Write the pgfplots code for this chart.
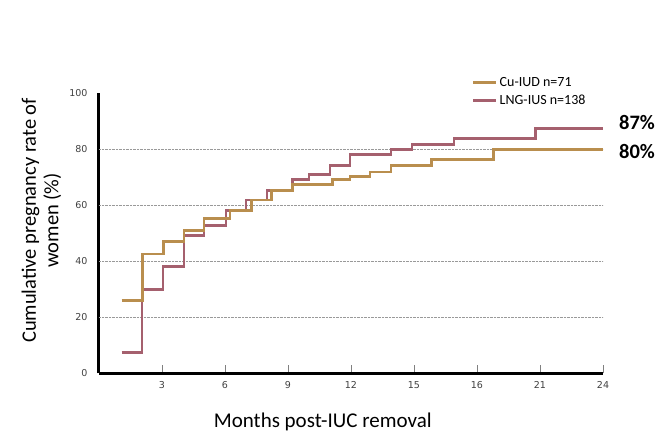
\documentclass[border=0pt]{standalone}
\usepackage{pgfplots}
\pgfplotsset{compat=1.18}
\usepackage{fontspec}
\setmainfont{Carlito}
\newfontfamily\tickfont{DejaVu Sans}
\definecolor{cugold}{HTML}{B98E4E}
\definecolor{lngmauve}{HTML}{A5606E}
\definecolor{ticktext}{HTML}{404040}
\begin{document}
\begin{tikzpicture}
\path[use as bounding box] (0,0) rectangle (667pt,446pt);
\begin{axis}[
  at={(99pt,72.7pt)}, anchor=south west,
  scale only axis, width=504pt, height=280pt,
  xmin=0, xmax=24, ymin=0, ymax=100,
  axis lines=left,
  axis line style={-, line width=3pt, black},
  clip=false,
  xtick={3,6,9,12,15,18,21,24},
  xticklabels={3,6,9,12,15,16,21,24},
  ytick={0,20,40,60,80,100},
  tick align=inside,
  xtick style={draw=gray, line width=0.8pt},
  ytick style={draw=none},
  major tick length=8pt,
  extra y ticks={20,40,60,80},
  extra y tick labels={},
  extra y tick style={grid=major, major grid style={densely dotted, gray!80, line width=0.9pt}, tick style={draw=none}},
  /pgf/number format/assume math mode=true,
  tick label style={font=\tickfont\fontsize{9.5}{11}\selectfont, text=ticktext},
  xticklabel style={yshift=-5pt},
  yticklabel style={xshift=-8pt},
  xlabel={Months post-IUC removal},
  xlabel style={font=\fontsize{21}{24}\selectfont, at={(axis description cs:0.444,-0.173)}, anchor=center},
  ylabel={Cumulative pregnancy rate of\\women (\%)},
  ylabel style={font=\fontsize{20.5}{22.5}\selectfont, align=center, at={(axis description cs:-0.114,0.546)}, anchor=center},
  legend style={draw=none, fill=none, at={(axis description cs:0.7395,1.065)}, anchor=north west,
    font=\fontsize{14}{16}\selectfont, row sep=3pt, inner sep=0pt},
  legend cell align=left,
  legend image code/.code={\draw[#1] (0pt,0pt) -- (23pt,0pt);},
]
\addlegendimage{cugold, line width=2.8pt}
\addlegendentry{Cu-IUD n=71}
\addlegendimage{lngmauve, line width=2.8pt}
\addlegendentry{LNG-IUS n=138}

\addplot[const plot, lngmauve, line width=2.8pt, forget plot] coordinates {
(1.08,7.3) (2.05,30) (3.05,38) (4.05,49.1) (5.0,52.7) (6.05,58.2) (7.0,61.9) (8.0,65.4)
(9.2,69.1) (10.0,70.9) (11.0,74.2) (11.95,78.1) (13.9,80) (14.9,81.8) (16.9,83.8) (20.8,87.3) (24,87.3)};

\addplot[const plot, cugold, line width=2.8pt, forget plot] coordinates {
(1.08,26) (2.06,42.6) (3.06,47.2) (4.05,51) (5.0,55.3) (6.24,58.2) (7.25,61.9) (8.22,65.4)
(9.2,67.4) (11.13,69.1) (11.95,70.2) (12.9,71.9) (13.9,74.2) (15.84,76.4) (18.8,80) (24,80)};

\node[anchor=west, font=\bfseries\fontsize{20.5}{23}\selectfont] at (axis cs:24.6,89.4) {87\%};
\node[anchor=west, font=\bfseries\fontsize{20.5}{23}\selectfont] at (axis cs:24.6,79.1) {80\%};
\end{axis}
\end{tikzpicture}
\end{document}
